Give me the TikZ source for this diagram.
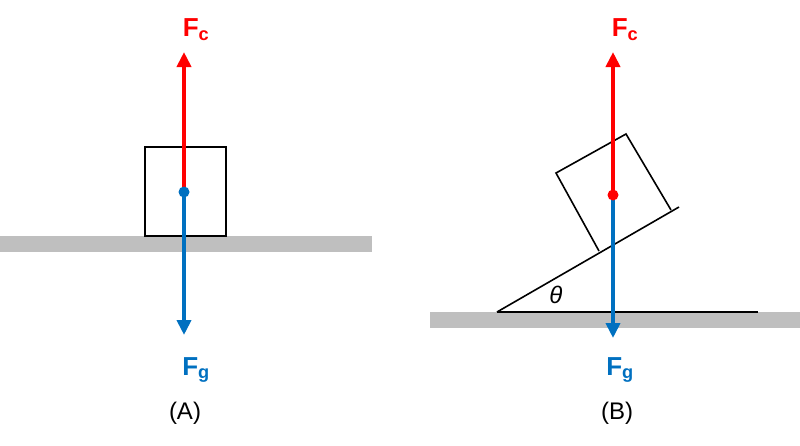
\documentclass[tikz,border=0pt]{standalone}
\usepackage{fontspec}
\setmainfont{Liberation Sans}
\usetikzlibrary{arrows.meta}
\definecolor{fred}{RGB}{255,0,0}
\definecolor{fblue}{RGB}{0,112,192}
\definecolor{gbar}{RGB}{191,191,191}
\begin{document}
\begin{tikzpicture}[x=1pt,y=-1pt,
  ground/.style={fill=gbar,draw=none},
  outline/.style={draw=black,line width=1.6pt,line join=miter},
  up/.style={draw=fred,line width=3.8pt,-{Triangle[length=15pt,width=14pt]}},
  down/.style={draw=fblue,line width=3.8pt,-{Triangle[length=15pt,width=14pt]}},
  lbl/.style={font=\fontsize{26}{26}\selectfont\bfseries},
  captext/.style={font=\fontsize{24}{24}\selectfont}]
\useasboundingbox (0,0) rectangle (800,445);
% A
\fill[ground] (0,236) rectangle (372,252);
\draw[outline] (145,147) rectangle (226,236);
\coordinate (ca) at (184,192);
\coordinate (ta) at (184,52);
\coordinate (ba) at (184,335);
\draw[up] (ca) -- (ta);
\draw[down] (ca) -- (ba);
\fill[fblue] (ca) circle (5.5);
\node[lbl,text=fred] (fca) at (196,30) {F\textsubscript{c}};
\node[lbl,text=fblue] (fga) at (196,370) {F\textsubscript{g}};
\node[captext] (A) at (185,413) {(A)};
% B
\fill[ground] (430,312) rectangle (800,328);
\draw[outline] (497,312) -- (758,312);
\draw[outline] (497,312) -- (679,207);
\draw[outline] (599,251) -- (556,173) -- (626,134) -- (671,210);
\node[font=\fontsize{24}{24}\selectfont\itshape] (th) at (556,295) {θ};
\coordinate (cb) at (613,195);
\coordinate (tb) at (613,52);
\coordinate (bb) at (613,338);
\draw[down] (cb) -- (bb);
\draw[up] (cb) -- (tb);
\fill[fred] (cb) circle (5.5);
\node[lbl,text=fred] (fcb) at (625,30) {F\textsubscript{c}};
\node[lbl,text=fblue] (fgb) at (620,370) {F\textsubscript{g}};
\node[captext] (B) at (617,413) {(B)};
\end{tikzpicture}
\end{document}
